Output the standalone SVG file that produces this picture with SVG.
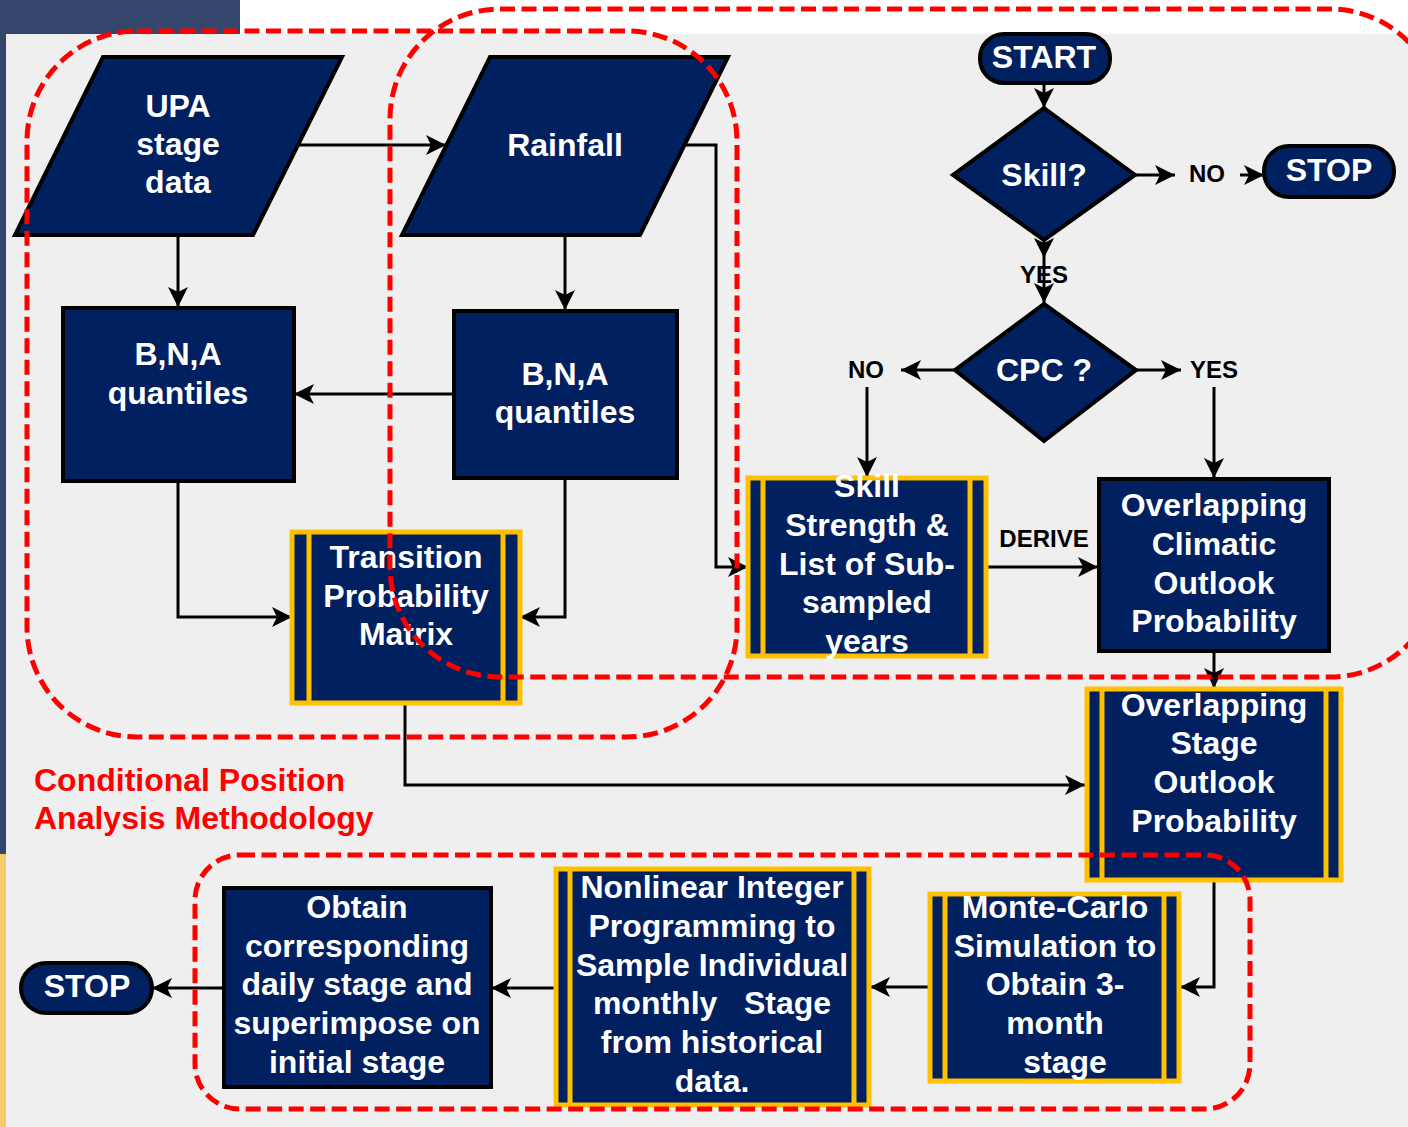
<svg xmlns="http://www.w3.org/2000/svg" width="1408" height="1127" viewBox="0 0 1408 1127">
<defs>
<style>
.nf{fill:#002060;stroke:#000;stroke-width:4}
.pp{fill:#002060;stroke:#ffc000;stroke-width:5}
.pl{stroke:#ffc000;stroke-width:5}
.t{font-family:"Liberation Sans",Arial,sans-serif;font-weight:bold;font-size:32px;fill:#fff;text-anchor:middle}
.lb{font-family:"Liberation Sans",Arial,sans-serif;font-weight:bold;font-size:24px;fill:#000;text-anchor:middle}
.red{font-family:"Liberation Sans",Arial,sans-serif;font-weight:bold;font-size:32px;fill:#ff0000}
.c{fill:none;stroke:#000;stroke-width:3}
.d{fill:none;stroke:#ff0000;stroke-width:5;stroke-dasharray:15 6.5}
</style>
<marker id="a" markerUnits="userSpaceOnUse" markerWidth="22" markerHeight="22" refX="20" refY="10" orient="auto" viewBox="0 0 22 22">
<path d="M0,0 L20,10 L0,20 L5,10 z" fill="#000"/>
</marker>
</defs>
<!-- background -->
<rect x="0" y="0" width="1408" height="1127" fill="#ffffff"/>
<rect x="0" y="0" width="240" height="34" fill="#34466b"/>
<rect x="0" y="34" width="6" height="820" fill="#34466b"/>
<rect x="0" y="854" width="6" height="273" fill="#f2cc6a"/>
<rect x="6" y="34" width="1402" height="1093" fill="#efefef"/>

<g id="connectors">
<path class="c" d="M298,145 H446" marker-end="url(#a)"/>
<path class="c" d="M684,145 H716 V567 H748" marker-end="url(#a)"/>
<path class="c" d="M178,235 V307" marker-end="url(#a)"/>
<path class="c" d="M565,235 V310" marker-end="url(#a)"/>
<path class="c" d="M454,394 H294" marker-end="url(#a)"/>
<path class="c" d="M178,481 V617 H292" marker-end="url(#a)"/>
<path class="c" d="M565,478 V617 H520" marker-end="url(#a)"/>
<path class="c" d="M405,705 V785 H1085" marker-end="url(#a)"/>
<path class="c" d="M1044,83 V108" marker-end="url(#a)"/>
<path class="c" d="M1135,175 H1175" marker-end="url(#a)"/>
<path class="c" d="M1240,175 H1264" marker-end="url(#a)"/>
<path class="c" d="M1044,232 V258" marker-end="url(#a)"/>
<path class="c" d="M1044,258 V303" marker-end="url(#a)"/>
<path class="c" d="M955,370 H901" marker-end="url(#a)"/>
<path class="c" d="M1136,370 H1181" marker-end="url(#a)"/>
<path class="c" d="M867,387 V477" marker-end="url(#a)"/>
<path class="c" d="M1214,387 V478" marker-end="url(#a)"/>
<path class="c" d="M988,567 H1098" marker-end="url(#a)"/>
<path class="c" d="M1214,652 V688" marker-end="url(#a)"/>
<path class="c" d="M1214,882 V987 H1180" marker-end="url(#a)"/>
<path class="c" d="M929,987 H870" marker-end="url(#a)"/>
<path class="c" d="M555,988 H491" marker-end="url(#a)"/>
<path class="c" d="M223,988 H152" marker-end="url(#a)"/>
</g>

<g id="upa">
<polygon class="nf" points="103,57 342,57 253,235 15,235"/>
<text class="t" x="178" y="117">UPA</text>
<text class="t" x="178" y="155">stage</text>
<text class="t" x="178" y="193">data</text>
</g>
<g id="rainfall">
<polygon class="nf" points="490,57 728,57 640,235 402,235"/>
<text class="t" x="565" y="156">Rainfall</text>
</g>
<g id="bna-left">
<rect class="nf" x="63" y="308" width="231" height="173"/>
<text class="t" x="178" y="365">B,N,A</text>
<text class="t" x="178" y="404">quantiles</text>
</g>
<g id="bna-right">
<rect class="nf" x="454" y="311" width="223" height="167"/>
<text class="t" x="565" y="385">B,N,A</text>
<text class="t" x="565" y="423">quantiles</text>
</g>
<g id="transition">
<rect class="pp" x="292" y="532" width="228" height="171"/>
<line class="pl" x1="309" y1="532" x2="309" y2="703"/>
<line class="pl" x1="503" y1="532" x2="503" y2="703"/>
<text class="t" x="406" y="568">Transition</text>
<text class="t" x="406" y="607">Probability</text>
<text class="t" x="406" y="645">Matrix</text>
</g>
<g id="start">
<rect class="nf" x="980" y="34" width="130" height="49" rx="24"/>
<text class="t" x="1044" y="68">START</text>
</g>
<g id="skill">
<polygon class="nf" points="1044,108 1135,175 1044,240 953,175"/>
<text class="t" x="1044" y="186">Skill?</text>
</g>
<g id="stop-top">
<rect class="nf" x="1264" y="146" width="130" height="51" rx="25"/>
<text class="t" x="1329" y="181">STOP</text>
</g>
<g id="cpc">
<polygon class="nf" points="1044,304 1136,370 1044,441 955,370"/>
<text class="t" x="1044" y="381">CPC ?</text>
</g>
<g id="skill-strength">
<rect class="pp" x="748" y="478" width="238" height="178"/>
<line class="pl" x1="763" y1="478" x2="763" y2="656"/>
<line class="pl" x1="970" y1="478" x2="970" y2="656"/>
<text class="t" x="867" y="497">Skill</text>
<text class="t" x="867" y="536">Strength &amp;</text>
<text class="t" x="867" y="575">List of Sub-</text>
<text class="t" x="867" y="613">sampled</text>
<text class="t" x="867" y="652">years</text>
</g>
<g id="climatic">
<rect class="nf" x="1099" y="479" width="230" height="172"/>
<text class="t" x="1214" y="516">Overlapping</text>
<text class="t" x="1214" y="555">Climatic</text>
<text class="t" x="1214" y="594">Outlook</text>
<text class="t" x="1214" y="632">Probability</text>
</g>
<g id="stage-outlook">
<rect class="pp" x="1087" y="689" width="254" height="191"/>
<line class="pl" x1="1102" y1="689" x2="1102" y2="880"/>
<line class="pl" x1="1326" y1="689" x2="1326" y2="880"/>
<text class="t" x="1214" y="716">Overlapping</text>
<text class="t" x="1214" y="754">Stage</text>
<text class="t" x="1214" y="793">Outlook</text>
<text class="t" x="1214" y="832">Probability</text>
</g>
<g id="monte-carlo">
<rect class="pp" x="930" y="894" width="249" height="187"/>
<line class="pl" x1="945" y1="894" x2="945" y2="1081"/>
<line class="pl" x1="1164" y1="894" x2="1164" y2="1081"/>
<text class="t" x="1055" y="918">Monte-Carlo</text>
<text class="t" x="1055" y="957">Simulation to</text>
<text class="t" x="1055" y="995">Obtain 3-</text>
<text class="t" x="1055" y="1034">month</text>
<text class="t" x="1065" y="1073">stage</text>
</g>
<g id="nonlinear">
<rect class="pp" x="556" y="869" width="313" height="236"/>
<line class="pl" x1="570" y1="869" x2="570" y2="1105"/>
<line class="pl" x1="854" y1="869" x2="854" y2="1105"/>
<text class="t" x="712" y="898">Nonlinear Integer</text>
<text class="t" x="712" y="937">Programming to</text>
<text class="t" x="712" y="976">Sample Individual</text>
<text class="t" x="712" y="1014" xml:space="preserve">monthly   Stage</text>
<text class="t" x="712" y="1053">from historical</text>
<text class="t" x="712" y="1092">data.</text>
</g>
<g id="obtain">
<rect class="nf" x="224" y="888" width="267" height="199"/>
<text class="t" x="357" y="918">Obtain</text>
<text class="t" x="357" y="957">corresponding</text>
<text class="t" x="357" y="995">daily stage and</text>
<text class="t" x="357" y="1034">superimpose on</text>
<text class="t" x="357" y="1073">initial stage</text>
</g>
<g id="stop-bottom">
<rect class="nf" x="21" y="963" width="131" height="50" rx="25"/>
<text class="t" x="87" y="997">STOP</text>
</g>

<g id="labels">
<text class="lb" x="1207" y="182">NO</text>
<text class="lb" x="1044" y="283">YES</text>
<text class="lb" x="866" y="378">NO</text>
<text class="lb" x="1214" y="378">YES</text>
<text class="lb" x="1044" y="547">DERIVE</text>
<text class="red" x="34" y="791">Conditional Position</text>
<text class="red" x="34" y="829">Analysis Methodology</text>
</g>

<g id="regions">
<rect class="d" x="27" y="31" width="710" height="706" rx="110"/>
<rect class="d" x="390" y="9" width="1050" height="668" rx="110"/>
<rect class="d" x="195" y="855" width="1055" height="254" rx="45"/>
</g>
</svg>
